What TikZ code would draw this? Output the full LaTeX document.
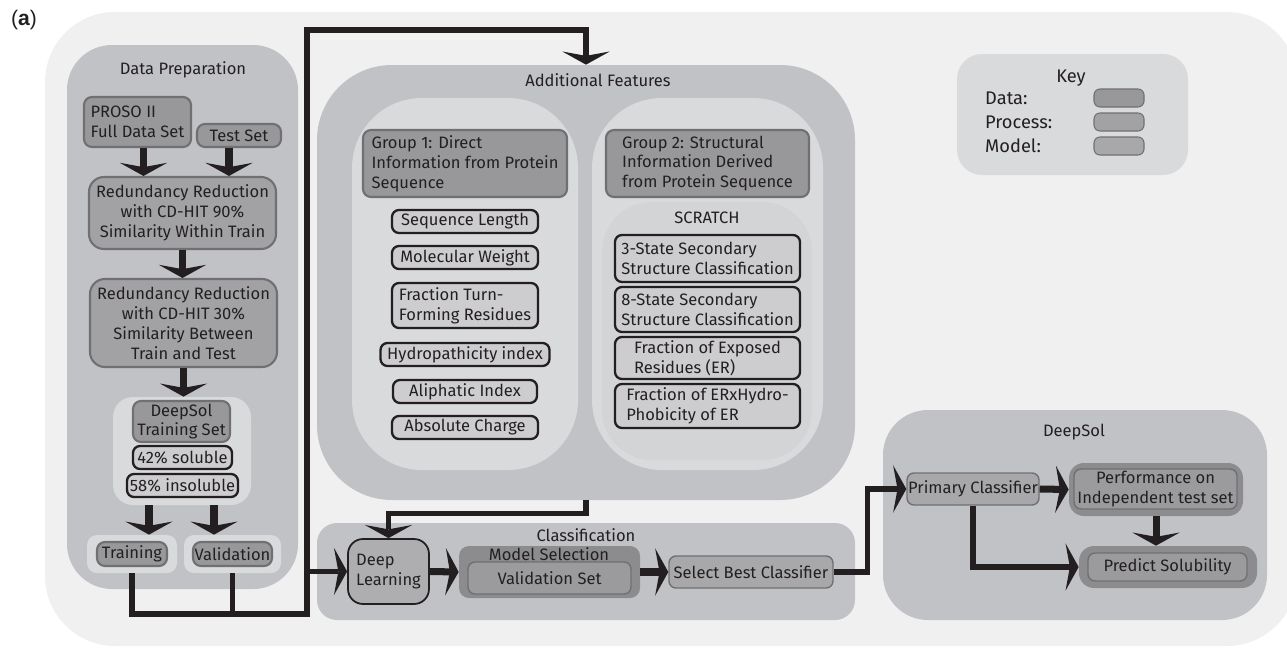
\documentclass[tikz,border=0pt]{standalone}
\usepackage{fontspec}
\setmainfont{Fira Sans}
\newfontfamily\tagfont{Liberation Sans}
\usetikzlibrary{arrows.meta, positioning, fit, calc}
\definecolor{Ink}{RGB}{35,31,32}
\definecolor{BackGray}{RGB}{240,240,240}
\definecolor{PanelGray}{RGB}{193,194,197}
\definecolor{LightPanel}{RGB}{217,218,220}
\definecolor{ScratchGray}{RGB}{211,212,214}
\definecolor{DataGray}{RGB}{152,152,155}
\definecolor{ProcGray}{RGB}{162,162,165}
\definecolor{ModelGray}{RGB}{168,168,171}
\definecolor{DeepGray}{RGB}{174,174,177}
\definecolor{InnerGray}{RGB}{155,155,158}
\definecolor{DarkPanel}{RGB}{140,140,143}
\definecolor{ItemGray}{RGB}{205,205,208}
\definecolor{DataEdge}{RGB}{112,112,115}

\begin{document}
\begin{tikzpicture}[x=0.02cm, y=-0.02cm,
	every node/.style={font=\fontsize{9.4}{11.3}\selectfont, text=Ink},
	keytext/.style={font=\fontsize{10.4}{13}\selectfont},
	wh/.style 2 args={minimum width={#1*0.02cm}, minimum height={#2*0.02cm}},
	panel/.style={fill=PanelGray, inner sep=0pt, rounded corners=0.9cm},
	light/.style={fill=LightPanel, inner sep=0pt, rounded corners=0.4cm},
	darkpanel/.style={fill=DarkPanel, inner sep=0pt, rounded corners=0.3cm},
	databox/.style={fill=DataGray, draw=DataEdge, line width=1.2pt, inner sep=0pt, rounded corners=0.16cm},
	procbox/.style={fill=ProcGray, draw=DataEdge, line width=1.2pt, inner sep=0pt, rounded corners=0.3cm},
	modelbox/.style={fill=ModelGray, draw=DataEdge, line width=0.8pt, inner sep=0pt, rounded corners=0.14cm},
	innerbox/.style={fill=InnerGray, draw=DataEdge, line width=0.8pt, inner sep=0pt, rounded corners=0.14cm},
	feat/.style={fill=ItemGray, draw=Ink, line width=1.3pt, inner sep=0pt, rounded corners=0.14cm},
	flow/.style={draw=Ink, line width=4pt, -{Stealth[length=7.5pt,width=27pt,inset=2.5pt,line width=0pt]}},
	wire/.style={draw=Ink, line width=3pt},
	wirehead/.style={wire, -{Stealth[length=7.5pt,width=27pt,inset=2.5pt,line width=0pt]}}]
\useasboundingbox (0,0) rectangle (1287,649);
\clip (0,0) rectangle (1287,649);
% backdrop
\node[fill=BackGray, inner sep=0pt, rounded corners=1.4cm, fit={(45,12)(1297,646)}] (back) {};
\node (tag) at (24,20) {\tagfont\fontsize{12}{14}\selectfont(\textbf{a})};

% data preparation
\node[panel, fit={(67,45)(298,589)}] (prep) {};
\node (prepT) at (183,70) {Data Preparation};
\node[databox, wh={107}{50}, align=left] (proso) at (137.5,122) {PROSO II\\Full Data Set};
\node[databox, wh={84}{23}] (testset) at (239,135.5) {Test Set};
\node[procbox, wh={187}{72}, align=center] (red90) at (182.5,213) {Redundancy Reduction\\with CD-HIT 90\%\\Similarity Within Train};
\node[procbox, wh={187}{88}, align=center] (red30) at (183.5,323) {Redundancy Reduction\\with CD-HIT 30\%\\Similarity Between\\Train and Test};
\node[light, fit={(113,397)(251,505)}] (dsbox) {};
\node[databox, wh={97}{41}, align=center] (dstrain) at (181.5,421.5) {DeepSol\\Training Set};
\node[feat, wh={99}{23}] (sol) at (182.5,457.5) {42\% soluble};
\node[feat, wh={111}{23}] (insol) at (182.5,485.5) {58\% insoluble};
\node[light, rounded corners=0.2cm, fit={(87,535)(177,573)}] (trainbox) {};
\node[light, rounded corners=0.2cm, fit={(184,535)(281,573)}] (valbox) {};
\node[databox, wh={70}{24}] (train) at (132,554) {Training};
\node[databox, wh={79}{24}] (val) at (232.5,554) {Validation};

% additional features
\node[panel, rounded corners=1.5cm, fit={(317,65)(855,500)}] (addf) {};
\node (addfT) at (598,80) {Additional Features};
\node[light, rounded corners=1.4cm, fit={(352,98)(578,470)}] (grp1) {};
\node[light, rounded corners=1.4cm, fit={(592,98)(823,470)}] (grp2) {};
\node[databox, wh={204}{67}, align=left] (g1head) at (465,163.5) {Group 1: Direct\\Information from Protein\\Sequence};
\node[databox, wh={203}{67}, align=left] (g2head) at (707.5,163.5) {Group 2: Structural\\Information Derived\\from Protein Sequence};
\node[fill=ScratchGray, inner sep=0pt, rounded corners=1cm, fit={(602,202)(812,460)}] (scratch) {};
\node (scratchT) at (707,218) {SCRATCH};
\foreach \n/\w/\y/\h/\txt in {
	seqlen/146/221.5/23/{Sequence Length},
	molw/146/257.5/23/{Molecular Weight},
	turn/146/305.5/45/{Fraction Turn-\\Forming Residues},
	hydro/169/354.5/23/{Hydropathicity index},
	aliph/144/391.5/23/{Aliphatic Index},
	charge/146/427.5/23/{Absolute Charge}}
	\node[feat, wh={\w}{\h}, align=left] (\n) at (465,\y) {\txt};
\foreach \n/\y/\h/\txt in {
	ss3/258.5/47/{3-State Secondary\\Structure Classification},
	ss8/309.5/45/{8-State Secondary\\Structure Classification},
	expo/358/42/{Fraction of Exposed\\Residues (ER)},
	erhyd/406/44/{Fraction of ERxHydro-\\Phobicity of ER}}
	\node[feat, wh={185}{\h}, align=left] (\n) at (707.5,\y) {\txt};

% classification
\node[panel, rounded corners=0.4cm, fit={(317,523)(855,620)}] (classif) {};
\node (classifT) at (586,535) {Classification};
\node[fill=DeepGray, draw=Ink, line width=1pt, rounded corners=0.3cm, inner sep=0pt, wh={81}{65}, align=left] (deep) at (388.5,571.5) {Deep\\Learning};
\node[darkpanel, rounded corners=0.2cm, fit={(459,546)(640,598)}] (modsel) {};
\node (modselT) at (549,554) {Model Selection};
\node[innerbox, wh={163}{32}] (valset) at (549.5,578) {Validation Set};
\node[modelbox, wh={164}{32}] (best) at (751,572) {Select Best Classifier};

% deepsol
\node[panel, fit={(883,410)(1267,620)}] (deepsol) {};
\node (deepsolT) at (1074,432) {DeepSol};
\node[modelbox, wh={132}{32}] (primary) at (973,489) {Primary Classifier};
\node[darkpanel, fit={(1069,463)(1243,516)}] (perfbox) {};
\node[innerbox, wh={163}{40}, align=center] (perf) at (1155.5,489) {Performance on\\Independent test set};
\node[darkpanel, fit={(1079,546)(1257,588)}] (predbox) {};
\node[innerbox, wh={159}{28}] (pred) at (1167.5,567) {Predict Solubility};

% key
\node[light, rounded corners=0.5cm, fit={(957,54)(1188,175)}] (key) {};
\node[keytext] (keyT) at (1071,78) {Key};
\foreach \n/\t/\y/\c in {data/Data:/98/DataGray, proc/Process:/122/ProcGray, model/Model:/146/ModelGray}{
	\node[keytext, anchor=west] (\n-lab) at (979,\y) {\t};
	\node[fill=\c, draw=DataEdge, line width=0.6pt, rounded corners=0.12cm, inner sep=0pt, fit={(1094,\y-9)(1144,\y+9)}] (\n-swatch) {};
}

% connections
\coordinate (join) at (307,614);
\coordinate (over) at (307,30);
\draw[flow] ($(proso.south)+(6,0)$) -- ($(proso.south |- red90.north)+(6,0)$);
\draw[flow] ($(testset.south)+(-10,0)$) -- ($(testset.south |- red90.north)+(-10,0)$);
\draw[flow] (red90.south) -- (red90.south |- red30.north);
\draw[flow] (red30.south) -- (red30.south |- dsbox.north);
\draw[flow] ($(dsbox.south)+(-33,0)$) -- ($(dsbox.south |- trainbox.north)+(-33,0)$);
\draw[flow] ($(dsbox.south)+(32,0)$) -- ($(dsbox.south |- valbox.north)+(32,0)$);
\draw[wirehead] (trainbox.south) |- (join) -- (over) -| (addf.north);
\draw[wire] (valbox.south) -- (valbox.south |- join);
\draw[wirehead] (join |- deep.west) -- (deep.west);
\draw[wirehead] (addf.south) -- ++(0,13) -| (deep.north);
\draw[flow] (deep.east) -- (modsel.west);
\draw[flow] (modsel.east) -- (best.west);
\draw[wirehead] (best.east) -| ($(primary.west)+(-39,0)$) -- (primary.west);
\draw[flow] (primary.east) -- (perfbox.west);
\draw[flow] (perfbox.south) -- (perfbox.south |- predbox.north);
\draw[wirehead] (primary.south) |- (predbox.west);
\end{tikzpicture}
\end{document}
